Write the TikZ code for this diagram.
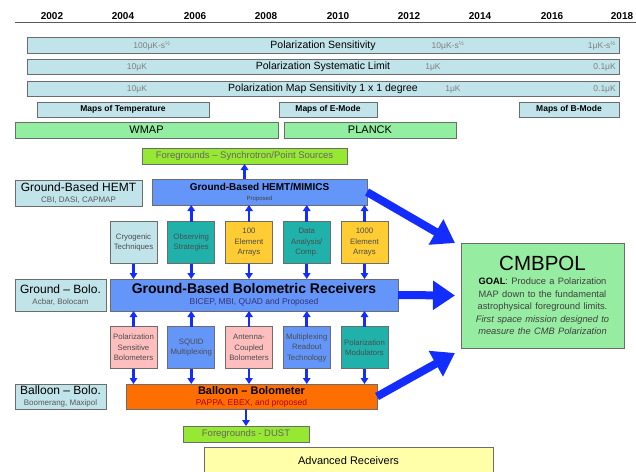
\documentclass[tikz,border=0pt]{standalone}
\usepackage{fontspec}
\setmainfont{Liberation Sans}
\usepackage{tikz}
\usepackage{xcolor}
\usetikzlibrary{arrows.meta}

\definecolor{barcyan}{RGB}{192,228,234}
\definecolor{missiongreen}{RGB}{146,238,160}
\definecolor{limegreen}{RGB}{150,232,50}
\definecolor{hemtblue}{RGB}{100,150,250}
\definecolor{tealbox}{RGB}{32,178,170}
\definecolor{goldbox}{RGB}{255,204,51}
\definecolor{pinkbox}{RGB}{255,190,190}
\definecolor{orangebox}{RGB}{255,110,0}
\definecolor{cmbgreen}{RGB}{150,236,160}
\definecolor{advyellow}{RGB}{255,255,170}
\definecolor{arrowblue}{RGB}{20,45,255}

\begin{document}
\begin{tikzpicture}[
        x=1pt, y=-1pt,
        node distance=57.75pt,
        box/.style={
            draw=gray!85!black,
            rectangle,
            inner sep=1pt,
            outer sep=0pt,
            align=center,
            line width=0.8pt
        },
        bar/.style={
            box,
            fill=barcyan,
            minimum width=592pt,
            minimum height=15.5pt,
            font=\fontsize{10.5}{12}\selectfont
        },
        value/.style={
            inner sep=0pt,
            text=gray,
            font=\fontsize{8.5}{10}\selectfont
        },
        year/.style={
            inner sep=0pt,
            anchor=base,
            font=\fontsize{10}{12}\selectfont\bfseries
        },
        maps/.style={
            box,
            fill=barcyan,
            minimum height=15pt,
            font=\fontsize{8.5}{10}\selectfont\bfseries
        },
        mission/.style={
            box,
            fill=missiongreen,
            minimum height=16pt,
            font=\fontsize{11}{12}\selectfont
        },
        fg/.style={
            box,
            fill=limegreen,
            minimum height=16pt,
            text=black!60,
            font=\fontsize{9.5}{11}\selectfont
        },
        side/.style={
            box,
            fill=barcyan,
            font=\fontsize{12}{13}\selectfont
        },
        tech/.style={
            box,
            minimum width=47pt,
            text width=45pt,
            minimum height=42pt,
            text=black!70,
            font=\fontsize{7.8}{10.5}\selectfont
        },
        arrow/.style={
            ->,
            >={Triangle[width=7.5pt,length=6pt]},
            line width=2.6pt,
            draw=arrowblue
        },
        bigarrow/.style={
            ->,
            >={Triangle[width=28pt,length=22pt]},
            line width=8pt,
            draw=arrowblue
        }
    ]
        \useasboundingbox (0,0) rectangle (636,471);
        \fill[white] (0,0) rectangle (636,471);

        \draw[line width=1.5pt, gray!70!black] (15,22.5) -- (636,22.5);
        \node (y2002) [year] at (52,19) {2002};
        \node (y2004) [year] at (123,19) {2004};
        \node (y2006) [year] at (195,19) {2006};
        \node (y2008) [year] at (266,19) {2008};
        \node (y2010) [year] at (338,19) {2010};
        \node (y2012) [year] at (409,19) {2012};
        \node (y2014) [year] at (480,19) {2014};
        \node (y2016) [year] at (552,19) {2016};
        \node (y2018) [year] at (622,19) {2018};

        \node (sens) [bar] at (323,45.5) {Polarization Sensitivity};
        \node (syst) [bar] at (323,67) {Polarization Systematic Limit};
        \node (mapsens) [bar] at (323,89) {Polarization Map Sensitivity 1 x 1 degree};
        \node (sensA) [value] at (152,45.5) {100μK-s\textsuperscript{½}};
        \node (sensB) [value] at (448,45.5) {10μK-s\textsuperscript{½}};
        \node (sensC) [value, anchor=east] at (616,45.5) {1μK-s\textsuperscript{½}};
        \node (systA) [value] at (137,67) {10μK};
        \node (systB) [value] at (433,67) {1μK};
        \node (systC) [value, anchor=east] at (616,67) {0.1μK};
        \node (mapsA) [value] at (137,89) {10μK};
        \node (mapsB) [value] at (453,89) {1μK};
        \node (mapsC) [value, anchor=east] at (616,89) {0.1μK};

        \node (mapT) [maps, minimum width=172pt] at (123,109.5) {Maps of Temperature};
        \node (mapE) [maps, minimum width=98pt] at (328,109.5) {Maps of E-Mode};
        \node (mapB) [maps, minimum width=100pt] at (569,109.5) {Maps of B-Mode};
        \node (wmap) [mission, minimum width=263pt] at (146.5,130) {WMAP};
        \node (planck) [mission, minimum width=172pt] at (370,130) {PLANCK};

        \node (fgsync) [fg, minimum width=205pt] at (244.5,156) {Foregrounds -- Synchrotron/Point Sources};
        \node (hemt) [box, fill=hemtblue, minimum width=215pt, minimum height=26pt] at (259.5,192)
            {{\fontsize{10}{12}\selectfont\bfseries Ground-Based HEMT/MIMICS}\\[-2pt]{\fontsize{6}{7}\selectfont\color{black!75} Proposed}};
        \node (hemtside) [side, minimum width=127pt, minimum height=26pt] at (78.5,193)
            {Ground-Based HEMT\\[-2pt]{\fontsize{8}{9}\selectfont\color{black!65} CBI, DASI, CAPMAP}};

        \node (cryo) [tech, fill=barcyan] at (133.5,242.5) {Cryogenic\\ Techniques};
        \node (obs) [tech, fill=tealbox, right of=cryo] {Observing\\ Strategies};
        \node (elem) [tech, fill=goldbox, right of=obs] {100\\ Element\\ Arrays};
        \node (data) [tech, fill=tealbox, right of=elem] {Data\\ Analysis/\\ Comp.};
        \node (kelem) [tech, fill=goldbox, right of=data] {1000\\ Element\\ Arrays};

        \node (bolo) [box, fill=hemtblue, minimum width=288pt, minimum height=32pt] at (254,295)
            {{\fontsize{14}{16}\selectfont\bfseries Ground-Based Bolometric Receivers}\\[-1pt]{\fontsize{8.5}{9}\selectfont\color{blue!35!black!80} BICEP, MBI, QUAD and Proposed}};
        \node (boloside) [side, minimum width=91pt, minimum height=32pt] at (60.5,295)
            {Ground -- Bolo.\\[-2pt]{\fontsize{8}{9}\selectfont\color{black!65} Acbar, Bolocam}};

        \node (psb) [tech, fill=pinkbox, below of=cryo, node distance=105pt] {Polarization\\ Sensitive\\ Bolometers};
        \node (squid) [tech, fill=hemtblue, right of=psb] {SQUID\\ Multiplexing};
        \node (ant) [tech, fill=pinkbox, right of=squid] {Antenna-\\ Coupled\\ Bolometers};
        \node (mux) [tech, fill=hemtblue, right of=ant] {Multiplexing\\ Readout\\ Technology};
        \node (mod) [tech, fill=tealbox, right of=mux] {Polarization\\ Modulators};

        \node (balloon) [box, fill=orangebox, minimum width=251pt, minimum height=25pt] at (251.5,396.5)
            {{\fontsize{11}{12}\selectfont\bfseries Balloon -- Bolometer}\\[-1pt]{\fontsize{8.5}{9}\selectfont\color{red!70!black} PAPPA, EBEX, and proposed}};
        \node (balloonside) [side, minimum width=91pt, minimum height=25pt] at (60.5,396.5)
            {Balloon -- Bolo.\\[-2pt]{\fontsize{8}{9}\selectfont\color{black!65} Boomerang, Maxipol}};

        \node (fgdust) [fg, minimum width=126pt] at (246,434) {Foregrounds - DUST};
        \node (adv) [box, fill=advyellow, minimum width=289pt, minimum height=28pt, font=\fontsize{11}{12}\selectfont] at (348.5,461) {Advanced Receivers};

        \node (cmbpol) [box, fill=cmbgreen, minimum width=163pt, minimum height=105pt, text width=159pt, text=black!75] at (542.5,295.5)
            {{\fontsize{20.5}{22}\selectfont\color{black}CMBPOL}\\[2pt]
             {\fontsize{9.3}{12.5}\selectfont\textbf{\color{black}GOAL}:\ Produce a Polarization\\
             MAP\ down to the fundamental\\ astrophysical foreground limits.\\
             \itshape First space mission designed to\\ measure the CMB Polarization\par}};

        \coordinate (tipA) at ([xshift=-6pt]cmbpol.north west);
        \coordinate (tipB) at ([xshift=-6pt]cmbpol.west);
        \coordinate (tipC) at ([xshift=-6pt,yshift=-5pt]cmbpol.south west);

        \draw[arrow] (fgsync.south |- hemt.north) -- (fgsync.south);
        \draw[arrow] (obs.north) -- (obs.north |- hemt.south);
        \draw[arrow] (elem.north) -- (elem.north |- hemt.south);
        \draw[arrow] (data.north) -- (data.north |- hemt.south);
        \draw[arrow] (kelem.north) -- (kelem.north |- hemt.south);
        \draw[arrow] (cryo.south) -- (cryo.south |- bolo.north);
        \draw[arrow] (obs.south) -- (obs.south |- bolo.north);
        \draw[arrow] (elem.south) -- (elem.south |- bolo.north);
        \draw[arrow] (data.south) -- (data.south |- bolo.north);
        \draw[arrow] (kelem.south) -- (kelem.south |- bolo.north);
        \draw[arrow] (psb.north) -- (psb.north |- bolo.south);
        \draw[arrow] (squid.north) -- (squid.north |- bolo.south);
        \draw[arrow] (ant.north) -- (ant.north |- bolo.south);
        \draw[arrow] (mux.north) -- (mux.north |- bolo.south);
        \draw[arrow] (mod.north) -- (mod.north |- bolo.south);
        \draw[arrow] (psb.south) -- (psb.south |- balloon.north);
        \draw[arrow] (squid.south) -- (squid.south |- balloon.north);
        \draw[arrow] (ant.south) -- (ant.south |- balloon.north);
        \draw[arrow] (mux.south) -- (mux.south |- balloon.north);
        \draw[arrow] (mod.south) -- (mod.south |- balloon.north);
        \draw[arrow] (fgdust.north |- balloon.south) -- (fgdust.north);

        \draw[bigarrow] (hemt.east) -- (tipA);
        \draw[bigarrow] (bolo.east) -- (tipB);
        \draw[bigarrow] (balloon.east) -- (tipC);
    \end{tikzpicture}
\end{document}
